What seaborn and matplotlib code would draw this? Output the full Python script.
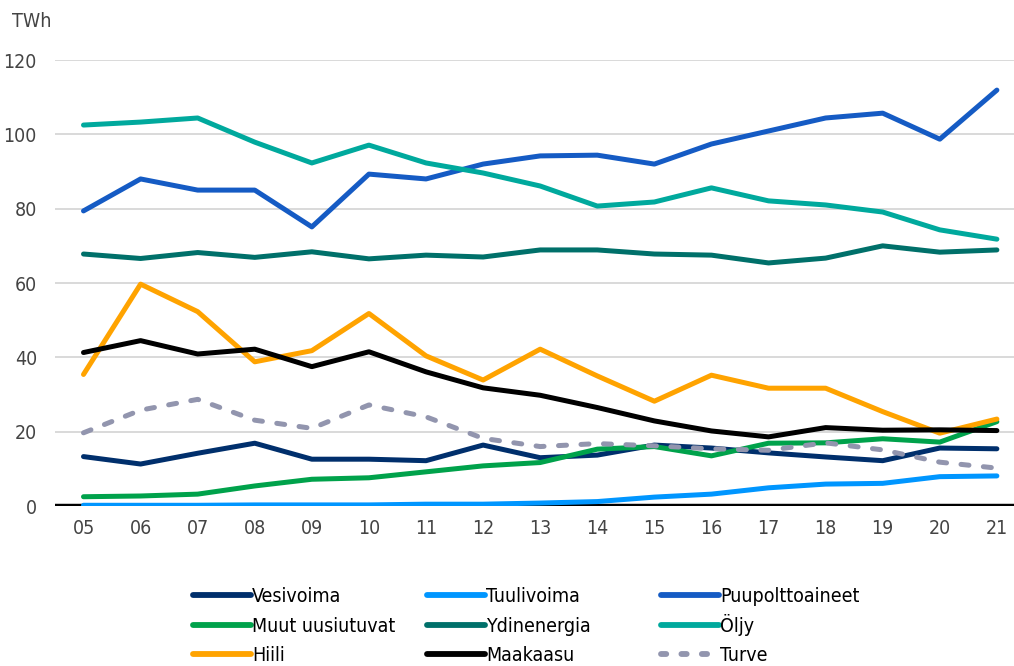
import numpy as np
import pandas as pd
import matplotlib
matplotlib.use("Agg")
import matplotlib.pyplot as plt
import seaborn as sns
from matplotlib import font_manager
from matplotlib.lines import Line2D

sns.set_theme(style="white")

# the original uses a condensed sans; pick a condensed face if one is installed
cond = [f for f in font_manager.fontManager.ttflist
        if f.stretch in ("condensed", "semi-condensed") and f.weight in (400, "normal", "regular")]
cond.sort(key=lambda f: (f.name != "Noto Sans", f.stretch != "condensed", f.style != "normal"))
if cond:
    plt.rcParams["font.family"] = [cond[0].name, "DejaVu Sans"]
    plt.rcParams["font.stretch"] = cond[0].stretch
    FS = 14
else:
    plt.rcParams["font.family"] = ["Liberation Sans", "DejaVu Sans"]
    FS = 13

years = ["05", "06", "07", "08", "09", "10", "11", "12", "13",
         "14", "15", "16", "17", "18", "19", "20", "21"]

vesivoima = [13.3, 11.3, 14.2, 16.9, 12.6, 12.6, 12.2, 16.4, 13.0,
             13.7, 16.4, 15.6, 14.3, 13.2, 12.2, 15.6, 15.4]
tuulivoima = [0.2, 0.2, 0.2, 0.3, 0.3, 0.3, 0.5, 0.5, 0.8,
              1.2, 2.4, 3.2, 4.9, 5.9, 6.1, 7.9, 8.1]
puupolttoaineet = [79.4, 88.0, 85.0, 85.0, 75.1, 89.3, 88.0, 92.0, 94.2,
                   94.4, 92.0, 97.4, 100.9, 104.4, 105.7, 98.7, 111.9]
muut_uusiutuvat = [2.5, 2.7, 3.2, 5.4, 7.2, 7.6, 9.2, 10.8, 11.7,
                   15.3, 16.0, 13.5, 16.9, 17.0, 18.1, 17.2, 22.7]
ydinenergia = [67.8, 66.6, 68.2, 66.9, 68.4, 66.5, 67.5, 67.0, 68.9,
               68.9, 67.8, 67.5, 65.4, 66.7, 70.0, 68.3, 68.9]
oljy = [102.5, 103.3, 104.4, 97.9, 92.3, 97.1, 92.3, 89.6, 86.1,
        80.7, 81.8, 85.6, 82.1, 81.0, 79.1, 74.3, 71.8]
hiili = [35.4, 59.7, 52.3, 38.8, 41.8, 51.8, 40.4, 33.9, 42.2,
         35.0, 28.2, 35.2, 31.7, 31.7, 25.4, 19.6, 23.4]
maakaasu = [41.3, 44.5, 40.9, 42.2, 37.5, 41.5, 36.1, 31.8, 29.8,
            26.5, 22.9, 20.2, 18.6, 21.1, 20.4, 20.5, 20.3]
turve = [19.7, 25.8, 28.7, 23.1, 20.9, 27.2, 24.0, 18.2, 16.0,
         16.8, 16.2, 15.4, 15.0, 17.0, 15.1, 11.8, 10.2]

series = [
    ("Vesivoima", vesivoima, "#002f6c", False),
    ("Tuulivoima", tuulivoima, "#0096ff", False),
    ("Puupolttoaineet", puupolttoaineet, "#155bc4", False),
    ("Muut uusiutuvat", muut_uusiutuvat, "#00a24b", False),
    ("Ydinenergia", ydinenergia, "#00706a", False),
    ("Öljy", oljy, "#00a99d", False),
    ("Hiili", hiili, "#ffa300", False),
    ("Maakaasu", maakaasu, "#000000", False),
    ("Turve", turve, "#9295ae", True),
]

fig = plt.figure(figsize=(10.14, 6.66), dpi=100)
ax = fig.add_axes([0.0542, 0.2402, 0.9458, 0.6697])

x = np.arange(len(years))
ax.axhline(0, color="black", lw=3.2, zorder=2.5)

handles = []
for name, vals, col, dashed in series:
    df = pd.DataFrame({"x": x, "y": vals})
    sns.lineplot(data=df, x="x", y="y", ax=ax, color=col, lw=3.6, zorder=3)
    ln = ax.lines[-1]
    ln.set_solid_capstyle("round")
    if dashed:
        ln.set_dashes((1.6, 2.9))
        ln.set_dash_capstyle("round")
    h = Line2D([], [], color=col, lw=4.2, solid_capstyle="round")
    if dashed:
        h.set_dashes((0.9, 2.6))
        h.set_dash_capstyle("round")
    handles.append((name, h))

ax.set_xlim(-0.5, 16.3)
ax.set_ylim(0, 120)
ax.set_yticks(range(0, 121, 20))
ax.set_xticks(x)
ax.set_xticklabels(years)
ax.grid(axis="y", color="#d9d9d9", lw=1.4)
ax.set_axisbelow(True)
for s in ax.spines.values():
    s.set_visible(False)
ax.tick_params(axis="both", length=0, labelsize=FS, labelcolor="#444444")
ax.tick_params(axis="x", pad=9)
ax.tick_params(axis="y", pad=13)
ax.set_xlabel("")
ax.set_ylabel("")
fig.text(0.012, 0.967, "TWh", fontsize=FS, color="#444444", va="center")

# one small legend per entry so the 3x3 grid sits at fixed positions;
# anchored at the bottom so the baselines line up (Ö is taller)
col_x = [193, 427, 661]
row_bottom = [606, 636, 665]
for i, (name, h) in enumerate(handles):
    r, c = divmod(i, 3)
    fig.legend([h], [name], loc="lower left",
               bbox_to_anchor=(col_x[c] / 1014, 1 - row_bottom[r] / 666),
               frameon=False, fontsize=FS, handlelength=3.0, handletextpad=0.05,
               borderpad=0, borderaxespad=0, labelcolor="black")

fig.savefig("out.png", dpi=100)
